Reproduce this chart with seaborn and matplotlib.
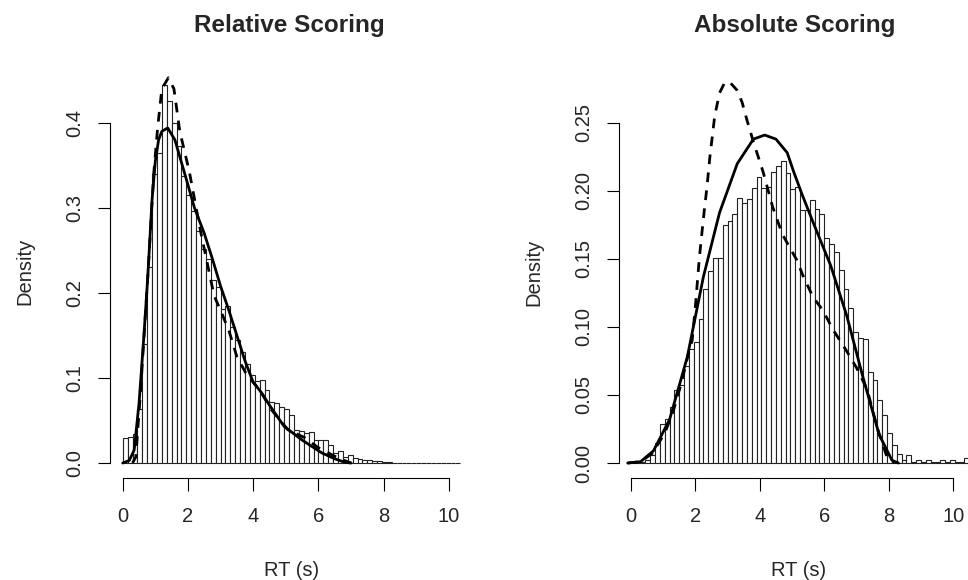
import numpy as np
import pandas as pd
import seaborn as sns
import matplotlib.pyplot as plt

sns.set_style("white")
plt.rcParams['font.family'] = ['Liberation Sans', 'DejaVu Sans']

# histogram bar heights (density), bins of 0.15 s starting at 0
bin_width = 0.15
rel_hist = [0.030, 0.031, 0.034, 0.063, 0.140, 0.230, 0.340, 0.365, 0.445, 0.426,
            0.400, 0.373, 0.337, 0.315, 0.296, 0.273, 0.252, 0.240, 0.215, 0.207,
            0.181, 0.185, 0.160, 0.145, 0.131, 0.116, 0.104, 0.096, 0.098, 0.086,
            0.072, 0.070, 0.066, 0.063, 0.057, 0.039, 0.038, 0.035, 0.036, 0.027,
            0.027, 0.027, 0.021, 0.012, 0.014, 0.007, 0.009, 0.006, 0.005, 0.004,
            0.003, 0.002, 0.002, 0.001, 0.001, 0.0005, 0.0005, 0.0, 0.0005, 0.0,
            0.0005, 0.0, 0.0, 0.0005, 0.0, 0.0, 0.0005, 0.0, 0.0005]
abs_hist = [0.0005, 0.0005, 0.001, 0.002, 0.006, 0.015, 0.029, 0.032, 0.041, 0.054,
            0.057, 0.071, 0.084, 0.089, 0.106, 0.128, 0.141, 0.151, 0.151, 0.175,
            0.178, 0.183, 0.195, 0.191, 0.194, 0.202, 0.210, 0.202, 0.203, 0.214,
            0.218, 0.222, 0.213, 0.201, 0.203, 0.186, 0.186, 0.193, 0.187, 0.183,
            0.165, 0.161, 0.155, 0.142, 0.128, 0.114, 0.096, 0.092, 0.091, 0.067,
            0.061, 0.046, 0.035, 0.022, 0.013, 0.007, 0.002, 0.006, 0.001, 0.002,
            0.001, 0.002, 0.001, 0.001, 0.002, 0.001, 0.002, 0.001, 0.001, 0.004]

# density curves (solid and dashed)
rel_solid_x = [0.0, 0.2, 0.35, 0.5, 0.65, 0.77, 0.9, 1.0, 1.1, 1.2, 1.38, 1.6, 1.94,
               2.2, 2.5, 2.75, 3.0, 3.25, 3.5, 3.75, 4.0, 4.25, 4.5, 4.95, 5.5, 6.1,
               6.5, 6.8, 7.0]
rel_solid_y = [0.0, 0.003, 0.015, 0.07, 0.15, 0.22, 0.31, 0.355, 0.38, 0.39, 0.394,
               0.38, 0.335, 0.30, 0.27, 0.24, 0.208, 0.18, 0.15, 0.12, 0.095, 0.083,
               0.068, 0.043, 0.027, 0.012, 0.005, 0.001, 0.0]
rel_dash_x = [0.3, 0.4, 0.55, 0.77, 0.95, 1.07, 1.2, 1.4, 1.57, 1.75, 2.04, 2.4, 2.8,
              3.07, 3.27, 3.5, 3.8, 4.2, 4.55, 5.07, 5.57, 6.0, 6.6, 7.0]
rel_dash_y = [0.0, 0.007, 0.086, 0.22, 0.34, 0.394, 0.44, 0.453, 0.44, 0.39, 0.343,
              0.27, 0.197, 0.173, 0.154, 0.125, 0.104, 0.086, 0.063, 0.039, 0.03,
              0.018, 0.006, 0.0]
abs_solid_x = [-0.1, 0.3, 0.7, 1.2, 1.75, 2.25, 2.75, 3.3, 3.8, 4.15, 4.5, 4.85, 5.05,
               5.3, 5.65, 6.2, 6.7, 7.2, 7.7, 8.1, 8.3]
abs_solid_y = [0.0, 0.001, 0.009, 0.032, 0.078, 0.137, 0.184, 0.220, 0.238, 0.241,
               0.238, 0.228, 0.214, 0.198, 0.177, 0.145, 0.108, 0.063, 0.021, 0.002, 0.0]
abs_dash_x = [-0.1, 0.3, 0.66, 1.05, 1.3, 1.58, 1.8, 1.9, 2.0, 2.12, 2.25, 2.36, 2.45,
              2.6, 2.75, 2.92, 3.1, 3.29, 3.45, 3.6, 3.8, 4.1, 4.4, 4.7, 5.15, 5.35,
              5.65, 5.96, 6.27, 6.7, 7.0, 7.33, 7.64, 7.95, 8.2]
abs_dash_y = [0.0, 0.001, 0.007, 0.022, 0.037, 0.06, 0.082, 0.09, 0.115, 0.15, 0.18,
              0.203, 0.225, 0.255, 0.272, 0.28, 0.279, 0.274, 0.265, 0.252, 0.236,
              0.214, 0.188, 0.168, 0.149, 0.137, 0.122, 0.112, 0.098, 0.082, 0.07,
              0.054, 0.026, 0.004, 0.0]

x_ticks = [0, 2, 4, 6, 8, 10]
rel_yticks = [0.0, 0.1, 0.2, 0.3, 0.4]
rel_ylabels = ['0.0', '0.1', '0.2', '0.3', '0.4']
abs_yticks = [0.0, 0.05, 0.10, 0.15, 0.20, 0.25]
abs_ylabels = ['0.00', '0.05', '0.10', '0.15', '0.20', '0.25']

W, H = 968, 580
fig = plt.figure(figsize=(W / 100, H / 100), dpi=100)


def px_axes(x0, x1, ytop, ybot):
    return fig.add_axes([x0 / W, 1 - ybot / H, (x1 - x0) / W, (ybot - ytop) / H])


def hist_panel(ax, heights, sx, sy, dx, dy, title, yticks, ylabels, xlim, ylim, tx):
    n = len(heights)
    df = pd.DataFrame({'rt': (np.arange(n) + 0.5) * bin_width, 'dens': heights})
    sns.histplot(data=df, x='rt', weights='dens', binwidth=bin_width,
                 binrange=(0, n * bin_width), stat='count', ax=ax,
                 color='white', edgecolor='#222222', linewidth=0.8, alpha=1)
    sns.lineplot(x=sx, y=sy, ax=ax, color='black', lw=2.0)
    sns.lineplot(x=dx, y=dy, ax=ax, color='black', lw=2.0,
                 linestyle=(0, (3.5, 3)))
    ax.set_xlim(*xlim)
    ax.set_ylim(*ylim)
    ax.set_xticks(x_ticks)
    ax.set_xticklabels([str(t) for t in x_ticks])
    ax.set_yticks(yticks)
    ax.set_yticklabels(ylabels, rotation=90, va='center')
    for s in ['top', 'right']:
        ax.spines[s].set_visible(False)
    ax.spines['left'].set_bounds(yticks[0], yticks[-1])
    ax.spines['bottom'].set_bounds(0, 10)
    for s in ['left', 'bottom']:
        ax.spines[s].set_color('black')
        ax.spines[s].set_linewidth(0.8)
    ax.tick_params(axis='both', direction='out', length=9, width=0.8,
                   color='black', labelsize=14.5, left=True, bottom=True)
    ax.tick_params(axis='x', pad=12)
    ax.tick_params(axis='y', pad=9.5)
    ax.set_xlabel('RT (s)', fontsize=14.5, labelpad=25)
    ax.set_ylabel('Density', fontsize=14.5, labelpad=22)
    fig.text(tx / W, 1 - 32 / H, title, fontsize=17.5, fontweight='bold',
             ha='center', va='baseline')
    ax.patch.set_alpha(0)


ax1 = px_axes(110, 474, 65, 478)
hist_panel(ax1, rel_hist, rel_solid_x, rel_solid_y, rel_dash_x, rel_dash_y,
           'Relative Scoring', rel_yticks, rel_ylabels,
           (-0.39, 10.77), (-0.0176, 0.468), 289)

ax2 = px_axes(619, 979, 67, 478)
hist_panel(ax2, abs_hist, abs_solid_x, abs_solid_y, abs_dash_x, abs_dash_y,
           'Absolute Scoring', abs_yticks, abs_ylabels,
           (-0.37, 10.8), (-0.011, 0.291), 795)

fig.savefig('out.png', dpi=100, facecolor='white')
